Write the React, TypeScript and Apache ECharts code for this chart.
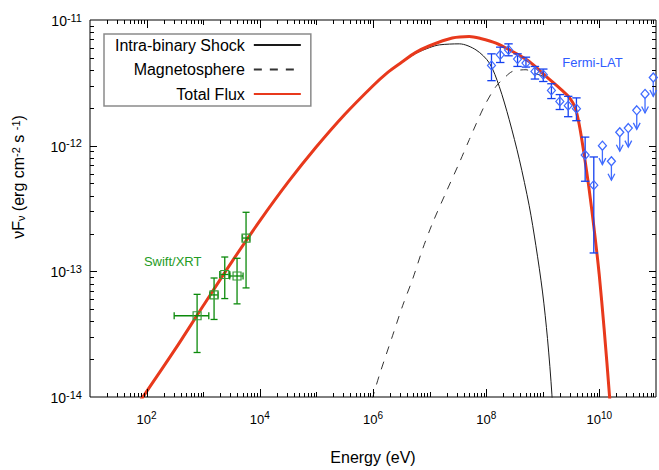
import React, { useEffect, useRef } from 'react';
import * as echarts from 'echarts';

const FONT = '"Liberation Sans", Arial, Helvetica, sans-serif';

// ---- Model curves (Energy in eV, nuFnu in erg cm^-2 s^-1) ----
const totalE = [79.4, 316, 1000, 3162, 1e4, 3.16e4, 1e5, 3.16e5, 1e6, 1.78e6, 3.16e6, 5.62e6, 1e7, 2.51e7, 5.01e7, 7.94e7, 1.49e8, 2.92e8, 5.75e8, 1.14e9, 2.22e9, 2.92e9, 3.72e9, 4.39e9, 5.37e9, 6.58e9, 8.07e9, 9.89e9, 1.21e10, 1.52e10, 1.66e10];
const totalF = [9.48e-15, 2.38e-14, 5.32e-14, 1.18e-13, 2.52e-13, 5.12e-13, 9.79e-13, 1.77e-12, 3.0e-12, 3.8e-12, 4.59e-12, 5.5e-12, 6.24e-12, 7.19e-12, 7.4e-12, 7.13e-12, 6.55e-12, 5.61e-12, 4.68e-12, 3.56e-12, 2.74e-12, 2.43e-12, 2.01e-12, 1.48e-12, 8.53e-13, 4.51e-13, 2.17e-13, 9.57e-14, 3.52e-14, 9.79e-15, 5.6e-15];

const shockE = [79.4, 316, 1000, 3162, 1e4, 3.16e4, 1e5, 3.16e5, 1e6, 1.78e6, 3.16e6, 5.62e6, 1e7, 1.49e7, 3.36e7, 6.61e7, 1.14e8, 1.7e8, 2.55e8, 3.84e8, 5.75e8, 7.55e8, 9.89e8, 1.21e9, 1.45e9, 1.51e9];
const shockF = [9.48e-15, 2.38e-14, 5.32e-14, 1.18e-13, 2.52e-13, 5.12e-13, 9.79e-13, 1.77e-12, 2.99e-12, 3.78e-12, 4.55e-12, 5.4e-12, 6.03e-12, 6.34e-12, 6.46e-12, 5.78e-12, 4.54e-12, 2.96e-12, 1.61e-12, 7.8e-13, 3.33e-13, 1.6e-13, 6.85e-14, 2.92e-14, 1.04e-14, 6.3e-15];

const magE = [9.6e5, 1.3e6, 2.23e6, 3.36e6, 5.04e6, 7.55e6, 1.14e7, 1.95e7, 3.36e7, 5.04e7, 9.25e7, 1.49e8, 2.23e8, 2.92e8, 5.04e8, 7.05e8, 1.14e9, 2.22e9, 2.92e9, 3.72e9, 4.39e9, 5.37e9, 6.58e9, 8.07e9, 9.89e9, 1.21e10, 1.52e10, 1.66e10];
const magF = [9.5e-15, 1.5e-14, 3.1e-14, 5.37e-14, 8.73e-14, 1.51e-13, 2.45e-13, 4.25e-13, 7.33e-13, 1.12e-12, 2.06e-12, 2.96e-12, 3.56e-12, 3.9e-12, 4.02e-12, 3.78e-12, 3.47e-12, 2.72e-12, 2.42e-12, 2.0e-12, 1.47e-12, 8.49e-13, 4.49e-13, 2.16e-13, 9.53e-14, 3.5e-14, 9.75e-15, 5.6e-15];

// ---- Swift/XRT data ----
const swiftE = [780, 1556, 2404, 3963, 5715];
const swiftELo = [307, 1306, 1963, 2944, 4932];
const swiftEHi = [1256, 1832, 2944, 5058, 6637];
const swiftF = [4.43e-14, 6.49e-14, 9.44e-14, 9.18e-14, 1.84e-13];
const swiftFLo = [2.26e-14, 4.14e-14, 6.07e-14, 5.51e-14, 7.38e-14];
const swiftFHi = [6.56e-14, 8.85e-14, 1.3e-13, 1.27e-13, 2.95e-13];

// ---- Fermi-LAT data ----
const fermiE = [1.24e8, 1.77e8, 2.48e8, 3.58e8, 5.04e8, 7.26e8, 1.02e9, 1.42e9, 2.0e9, 2.81e9, 3.93e9, 5.6e9, 7.96e9];
const fermiF = [4.35e-12, 5.28e-12, 5.78e-12, 4.89e-12, 4.54e-12, 3.9e-12, 3.67e-12, 2.75e-12, 2.25e-12, 2.08e-12, 1.97e-12, 8.43e-13, 4.85e-13];
const fermiFLo = [3.29e-12, 4.59e-12, 5.19e-12, 4.27e-12, 4.22e-12, 3.39e-12, 3.24e-12, 2.37e-12, 1.94e-12, 1.7e-12, 1.58e-12, 5.21e-13, 1.4e-13];
const fermiFHi = [5.38e-12, 6.08e-12, 6.46e-12, 5.38e-12, 5.06e-12, 4.27e-12, 4.07e-12, 3.11e-12, 2.55e-12, 2.47e-12, 2.4e-12, 1.17e-12, 8.13e-13];
const fermiUlE = [1.13e10, 1.63e10, 2.29e10, 3.24e10, 4.57e10, 6.4e10, 8.95e10];
const fermiUlF = [1.0e-12, 7.52e-13, 1.28e-12, 1.38e-12, 1.91e-12, 2.58e-12, 3.49e-12];

// ---- Axes (log10 exponents) ----
const X_MIN = 1, X_MAX = 11;
const Y_MIN = -14, Y_MAX = -11;
const X_DECADES = [1, 2, 3, 4, 5, 6, 7, 8, 9, 10];
const Y_DECADES = [-14, -13, -12];
const MULTIPLES = [1, 2, 3, 4, 5, 6, 7, 8, 9];

const RED = '#e8391c';
const BLUE = '#1440f0';
const BLUE_LIGHT = '#3f6bff';
const GREEN = '#0b8a0b';

const lg = (v: number) => Math.log10(v);
const pairs = (xs: number[], ys: number[]) => xs.map((x, i) => [lg(x), lg(ys[i])]);

export default function App() {
  const ref = useRef<HTMLDivElement>(null);
  useEffect(() => {
    const chart = echarts.init(ref.current!, null, { renderer: 'svg' });

    const xTickData: number[][] = [];
    X_DECADES.forEach((k) => MULTIPLES.forEach((m) => {
      if (k === X_MIN && m === 1) return;
      xTickData.push([k + lg(m), Y_MIN, m === 1 ? (k % 2 === 0 ? 8 : 5) : 4]);
    }));
    const yTickData: number[][] = [];
    Y_DECADES.forEach((k) => MULTIPLES.forEach((m) => {
      if (k === Y_MIN && m === 1) return;
      yTickData.push([X_MIN, k + lg(m), m === 1 ? 7 : 4]);
    }));

    const tickStyle = { stroke: '#000', lineWidth: 1 };
    const crisp = (v: number) => Math.round(v) + 0.5;

    const xRich = {
      b: { fontSize: 13, lineHeight: 16, verticalAlign: 'bottom', fontFamily: FONT, color: '#000' },
      s: { fontSize: 10, lineHeight: 10, padding: [0, 0, 8, 0], verticalAlign: 'top', fontFamily: FONT, color: '#000' },
    };
    const yRich = {
      b: { fontSize: 14, lineHeight: 16, verticalAlign: 'bottom', fontFamily: FONT, color: '#000' },
      s: { fontSize: 11, lineHeight: 11, padding: [0, 0, 8, 0], verticalAlign: 'top', fontFamily: FONT, color: '#000' },
    };

    const swiftData = swiftE.map((e, i) => [lg(e), lg(swiftF[i]), lg(swiftELo[i]), lg(swiftEHi[i]), lg(swiftFLo[i]), lg(swiftFHi[i])]);
    const fermiData = fermiE.map((e, i) => [lg(e), lg(fermiF[i]), lg(fermiFLo[i]), lg(fermiFHi[i])]);
    const fermiUlData = pairs(fermiUlE, fermiUlF);

    const option: any = {
      animation: false,
      backgroundColor: '#fff',
      grid: { left: 90, top: 20, width: 568, height: 379, show: true, borderColor: '#000', borderWidth: 1, backgroundColor: 'transparent' },
      xAxis: {
        type: 'value', min: X_MIN, max: X_MAX, interval: 1,
        axisLine: { show: false }, axisTick: { show: false }, splitLine: { show: false },
        axisLabel: {
          margin: 13,
          formatter: (v: number) => { const n = Math.round(v); return n % 2 === 0 ? `{b|10}{s|${n}}` : ''; },
          rich: xRich,
        },
        name: 'Energy (eV)', nameLocation: 'middle', nameGap: 52,
        nameTextStyle: { fontSize: 16, color: '#000', fontFamily: FONT },
      },
      yAxis: {
        type: 'value', min: Y_MIN, max: Y_MAX, interval: 1,
        axisLine: { show: false }, axisTick: { show: false }, splitLine: { show: false },
        axisLabel: {
          margin: 8,
          formatter: (v: number) => `{b|10}{s|${Math.round(v)}}`,
          rich: yRich,
        },
      },
      legend: {
        data: ['Intra-binary Shock', 'Magnetosphere', 'Total Flux'],
        orient: 'vertical', left: 104, top: 34, align: 'right',
        itemWidth: 47, itemHeight: 14, itemGap: 8.5,
        padding: [3, 9, 4, 11],
        borderColor: '#8a8a8a', borderWidth: 1.5, backgroundColor: '#fff',
        selectedMode: false,
        itemStyle: { opacity: 0 },
        textStyle: { fontSize: 16, color: '#000', fontFamily: FONT, lineHeight: 16, padding: [0, 4, 0, 0] },
      },
      graphic: [
        {
          type: 'text', x: 18, y: 177, rotation: Math.PI / 2,
          style: {
            text: 'νF{sub|ν} (erg cm{sup|-2} s {sup|-1})',
            fontSize: 16, fontFamily: FONT, fill: '#000', align: 'center', verticalAlign: 'middle',
            rich: {
              sub: { fontSize: 11, lineHeight: 11, padding: [8, 0, 0, 0], verticalAlign: 'bottom', fontFamily: FONT, fill: '#000' },
              sup: { fontSize: 11, lineHeight: 11, padding: [0, 0, 8, 0], verticalAlign: 'top', fontFamily: FONT, fill: '#000' },
            },
          },
        },
        { type: 'text', x: 172.7, y: 261, style: { text: 'Swift/XRT', fontSize: 13, fontFamily: FONT, fill: '#239b23', align: 'center', verticalAlign: 'middle' } },
        { type: 'text', x: 592.5, y: 62, style: { text: 'Fermi-LAT', fontSize: 13, fontFamily: FONT, fill: '#2f5cff', align: 'center', verticalAlign: 'middle' } },
      ],
      series: [
        {
          name: 'Intra-binary Shock', type: 'line', data: pairs(shockE, shockF),
          symbol: 'none', showSymbol: false, smooth: 0.3, clip: true, z: 2,
          lineStyle: { color: '#1a1a1a', width: 1 }, itemStyle: { color: '#1a1a1a' },
        },
        {
          name: 'Magnetosphere', type: 'line', data: pairs(magE, magF),
          symbol: 'none', showSymbol: false, smooth: 0.3, clip: true, z: 2,
          lineStyle: { color: '#333', width: 1, type: [8, 8] }, itemStyle: { color: '#333' },
        },
        {
          name: 'Total Flux', type: 'line', data: pairs(totalE, totalF),
          symbol: 'none', showSymbol: false, smooth: 0.3, clip: true, z: 3,
          lineStyle: { color: RED, width: 3 }, itemStyle: { color: RED },
        },
        {
          name: 'swift', type: 'custom', data: swiftData, z: 5, silent: true,
          renderItem: (params: any, api: any) => {
            const c = api.coord([api.value(0), api.value(1)]);
            const l = api.coord([api.value(2), api.value(1)]);
            const r = api.coord([api.value(3), api.value(1)]);
            const b = api.coord([api.value(0), api.value(4)]);
            const t = api.coord([api.value(0), api.value(5)]);
            const st = { stroke: GREEN, lineWidth: 1.3, fill: 'none' };
            const cap = 3.5;
            return {
              type: 'group', children: [
                { type: 'line', shape: { x1: l[0], y1: c[1], x2: r[0], y2: c[1] }, style: st },
                { type: 'line', shape: { x1: l[0], y1: c[1] - cap, x2: l[0], y2: c[1] + cap }, style: st },
                { type: 'line', shape: { x1: r[0], y1: c[1] - cap, x2: r[0], y2: c[1] + cap }, style: st },
                { type: 'line', shape: { x1: c[0], y1: b[1], x2: c[0], y2: t[1] }, style: st },
                { type: 'line', shape: { x1: c[0] - cap, y1: b[1], x2: c[0] + cap, y2: b[1] }, style: st },
                { type: 'line', shape: { x1: c[0] - cap, y1: t[1], x2: c[0] + cap, y2: t[1] }, style: st },
                { type: 'rect', shape: { x: c[0] - 4, y: c[1] - 4, width: 8, height: 8 }, style: { stroke: '#3a9a3a', lineWidth: 1.2, fill: 'none' } },
              ],
            };
          },
        },
        {
          name: 'fermi', type: 'custom', data: fermiData, z: 5, silent: true,
          renderItem: (params: any, api: any) => {
            const c = api.coord([api.value(0), api.value(1)]);
            const lo = api.coord([api.value(0), api.value(2)]);
            const hi = api.coord([api.value(0), api.value(3)]);
            const st = { stroke: BLUE, lineWidth: 1.3 };
            const cap = 4.2;
            return {
              type: 'group', children: [
                { type: 'line', shape: { x1: c[0], y1: lo[1], x2: c[0], y2: hi[1] }, style: st },
                { type: 'line', shape: { x1: c[0] - cap, y1: lo[1], x2: c[0] + cap, y2: lo[1] }, style: st },
                { type: 'line', shape: { x1: c[0] - cap, y1: hi[1], x2: c[0] + cap, y2: hi[1] }, style: st },
                { type: 'polygon', shape: { points: [[c[0], c[1] - 4.5], [c[0] + 4, c[1]], [c[0], c[1] + 4.5], [c[0] - 4, c[1]]] }, style: { stroke: BLUE_LIGHT, lineWidth: 1.2, fill: 'none' } },
              ],
            };
          },
        },
        {
          name: 'fermiUL', type: 'custom', data: fermiUlData, z: 5, silent: true,
          renderItem: (params: any, api: any) => {
            const c = api.coord([api.value(0), api.value(1)]);
            const st = { stroke: BLUE_LIGHT, lineWidth: 1.3, fill: 'none' };
            return {
              type: 'group', children: [
                { type: 'polygon', shape: { points: [[c[0], c[1] - 4.5], [c[0] + 4, c[1]], [c[0], c[1] + 4.5], [c[0] - 4, c[1]]] }, style: st },
                { type: 'line', shape: { x1: c[0], y1: c[1] + 4.5, x2: c[0], y2: c[1] + 19 }, style: st },
                { type: 'polyline', shape: { points: [[c[0] - 3.4, c[1] + 12.5], [c[0], c[1] + 19], [c[0] + 3.4, c[1] + 12.5]] }, style: st },
              ],
            };
          },
        },
        {
          name: 'xticks', type: 'custom', data: xTickData, z: 6, silent: true,
          renderItem: (params: any, api: any) => {
            const v = api.value(0), len = api.value(2);
            const b = api.coord([v, Y_MIN]);
            const t = api.coord([v, Y_MAX]);
            const x = crisp(b[0]);
            return {
              type: 'group', children: [
                { type: 'line', shape: { x1: x, y1: b[1], x2: x, y2: b[1] - len }, style: tickStyle },
                { type: 'line', shape: { x1: x, y1: t[1], x2: x, y2: t[1] + len }, style: tickStyle },
              ],
            };
          },
        },
        {
          name: 'yticks', type: 'custom', data: yTickData, z: 6, silent: true,
          renderItem: (params: any, api: any) => {
            const v = api.value(1), len = api.value(2);
            const l = api.coord([X_MIN, v]);
            const r = api.coord([X_MAX, v]);
            const y = crisp(l[1]);
            return {
              type: 'group', children: [
                { type: 'line', shape: { x1: l[0], y1: y, x2: l[0] + len, y2: y }, style: tickStyle },
                { type: 'line', shape: { x1: r[0], y1: y, x2: r[0] - len, y2: y }, style: tickStyle },
              ],
            };
          },
        },
      ],
    };

    chart.setOption(option);
    return () => chart.dispose();
  }, []);

  return <div ref={ref} style={{ position: 'fixed', left: 0, top: 0, width: 659, height: 470, background: '#fff' }} />;
}
